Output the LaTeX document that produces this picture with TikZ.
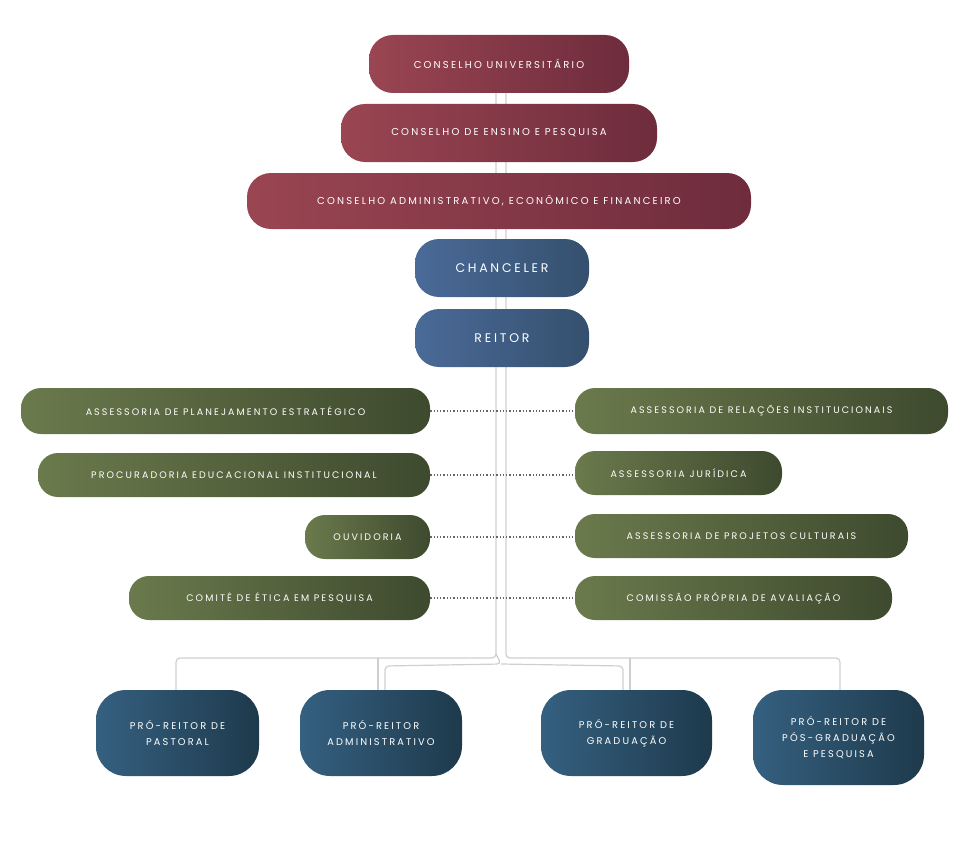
\documentclass[tikz,border=0pt]{standalone}
\usepackage{fontspec}
\setmainfont{Poppins}[LetterSpace=22]
\usetikzlibrary{calc}
\definecolor{redA}{HTML}{9A4552}\definecolor{redB}{HTML}{6E2C3C}
\definecolor{bluA}{HTML}{4A6A98}\definecolor{bluB}{HTML}{35506E}
\definecolor{grnA}{HTML}{6A7A4C}\definecolor{grnB}{HTML}{3E4A2E}
\definecolor{tlA}{HTML}{356080}\definecolor{tlB}{HTML}{1E3A4C}
\definecolor{linec}{HTML}{CFCFCF}
\tikzset{
 pill/.style={rounded corners=#1, inner sep=0pt, text=white, align=center, draw=none},
 redbox/.style={pill=24pt, left color=redA, right color=redB, font=\fontsize{10}{12}\selectfont},
 blubox/.style={pill=24pt, left color=bluA, right color=bluB, font=\fontsize{12.5}{14}\selectfont},
 grnbox/.style={pill=20pt, left color=grnA, right color=grnB, font=\fontsize{9.5}{12}\selectfont},
 tlbox/.style={pill=30pt, left color=tlA, right color=tlB, font=\fontsize{9.8}{16}\selectfont},
 trunk/.style={draw=linec, line width=1.2pt, rounded corners=4pt},
 dots/.style={draw=gray!80!black, line width=1.3pt, dotted},
}
\newcommand{\pbox}[7]{\node[#1, minimum width=#4-#2, minimum height=#5-#3] (#6) at ({(#2+#4)/2},{(#3+#5)/2}) {#7};}
\begin{document}
\begin{tikzpicture}[x=1pt,y=-1pt]
\useasboundingbox (0,0) rectangle (970,843);
% trunk lines
\draw[trunk] (496,60) -- (496,658) -- (176,658) -- (176,690);
\draw[trunk] (378,658) -- (378,690);
\draw[trunk] (506,60) -- (506,658) -- (840,658) -- (840,690);
\draw[trunk] (630,658) -- (630,690);
\draw[trunk] (496,654) -- (501,664) -- (385,666) -- (385,690);
\draw[trunk] (501,664) -- (623,666) -- (623,690);
% boxes
\pbox{redbox}{369}{35}{629}{93}{cu}{CONSELHO UNIVERSITÁRIO}
\pbox{redbox}{341}{104}{657}{162}{cep}{CONSELHO DE ENSINO E PESQUISA}
\pbox{redbox}{247}{173}{751}{229}{caef}{CONSELHO ADMINISTRATIVO, ECONÔMICO E FINANCEIRO}
\pbox{blubox}{415}{239}{589}{297}{ch}{CHANCELER}
\pbox{blubox}{415}{309}{589}{367}{re}{REITOR}
\pbox{grnbox}{21}{388}{430}{434}{l1}{ASSESSORIA DE PLANEJAMENTO ESTRATÉGICO}
\pbox{grnbox}{38}{453}{430}{497}{l2}{PROCURADORIA EDUCACIONAL INSTITUCIONAL}
\pbox{grnbox}{305}{515}{430}{559}{l3}{OUVIDORIA}
\pbox{grnbox}{129}{576}{430}{620}{l4}{COMITÊ DE ÉTICA EM PESQUISA}
\pbox{grnbox}{575}{388}{948}{434}{r1}{ASSESSORIA DE RELAÇÕES INSTITUCIONAIS}
\pbox{grnbox}{575}{451}{782}{495}{r2}{ASSESSORIA JURÍDICA}
\pbox{grnbox}{575}{514}{908}{558}{r3}{ASSESSORIA DE PROJETOS CULTURAIS}
\pbox{grnbox}{575}{576}{892}{620}{r4}{COMISSÃO PRÓPRIA DE AVALIAÇÃO}
\pbox{tlbox}{96}{690}{259}{776}{p1}{PRÓ-REITOR DE\\PASTORAL}
\pbox{tlbox}{300}{690}{462}{776}{p2}{PRÓ-REITOR\\ADMINISTRATIVO}
\pbox{tlbox}{541}{690}{712}{776}{p3}{PRÓ-REITOR DE\\GRADUAÇÃO}
\pbox{tlbox}{753}{690}{924}{785}{p4}{PRÓ-REITOR DE\\PÓS-GRADUAÇÃO\\E PESQUISA}
% dotted links
\draw[dots] (l1.east) -- (r1.west);
\draw[dots] (l2.east) -- (r2.west|-l2.east);
\draw[dots] (l3.east) -- (r3.west|-l3.east);
\draw[dots] (l4.east) -- (r4.west);
\end{tikzpicture}
\end{document}
